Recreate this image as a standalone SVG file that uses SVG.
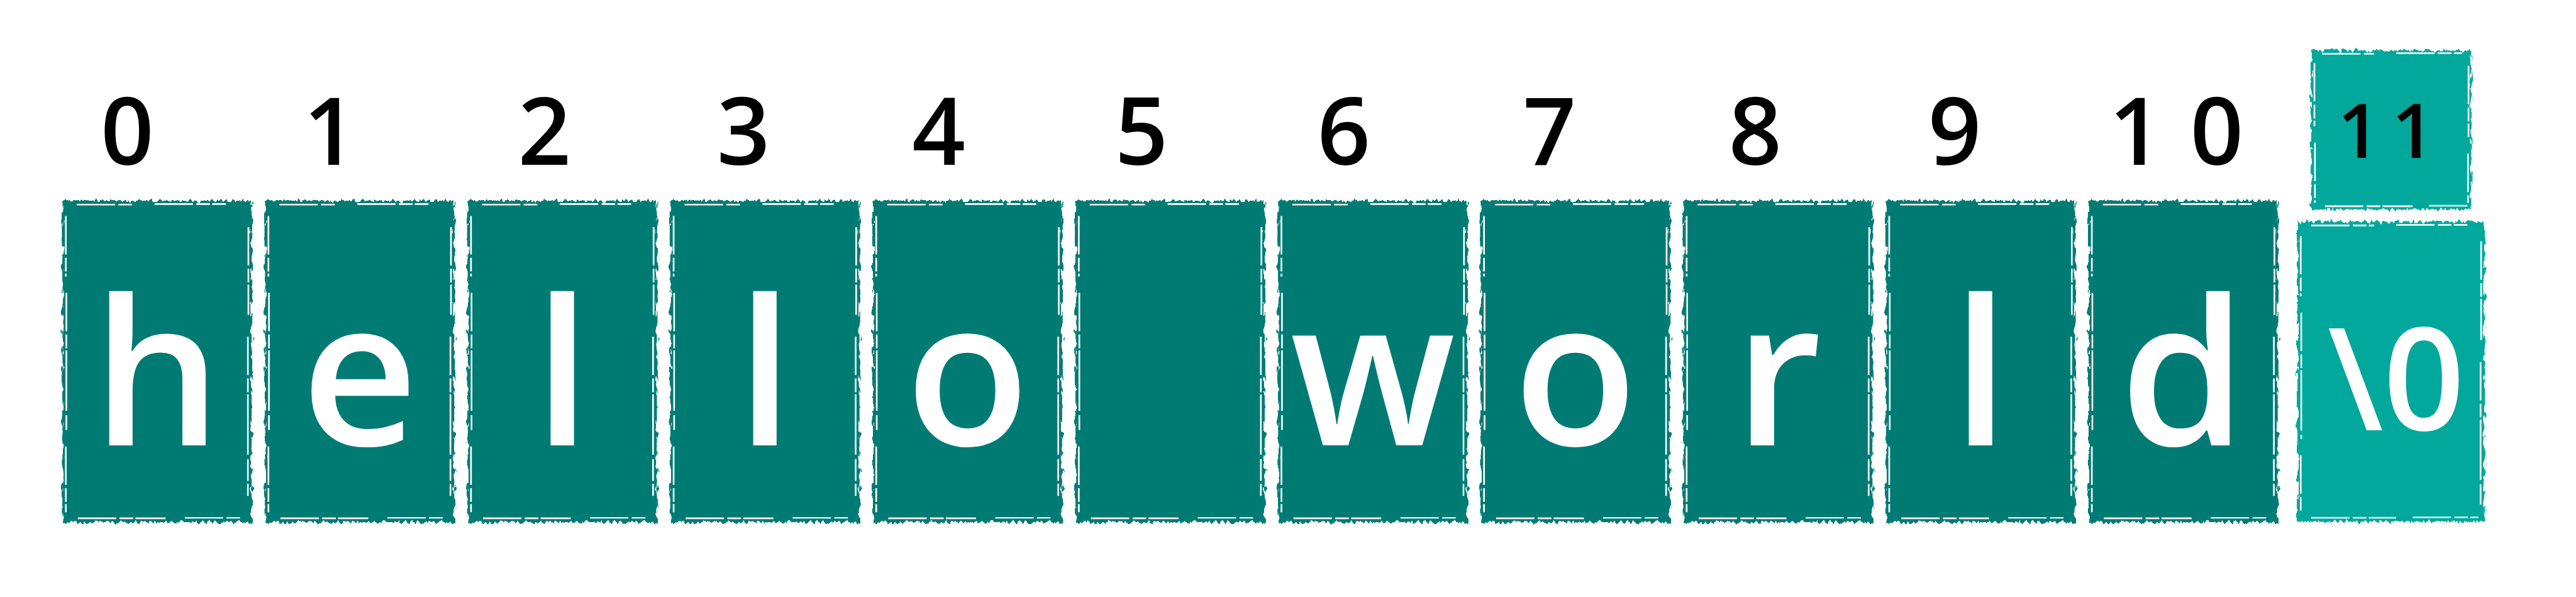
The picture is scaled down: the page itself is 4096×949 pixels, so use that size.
<svg xmlns="http://www.w3.org/2000/svg" xmlns:xlink="http://www.w3.org/1999/xlink" width="4096" height="949" viewBox="0 0 4096 949">
<defs>
<style>
.dk{fill:#007B74}
.lt{fill:#02A89C}
.ch{font-family:"Open Sans","Noto Sans",sans-serif;font-weight:600;font-size:370px;fill:#ffffff;text-anchor:middle}
.ix{font-family:"Open Sans","Noto Sans",sans-serif;font-weight:600;font-size:170px;fill:#000000;text-anchor:middle}
</style>
<filter id="rough" x="-0.06" y="-0.06" width="1.12" height="1.12">
<feTurbulence type="fractalNoise" baseFrequency="0.18 0.06" numOctaves="2" seed="7" result="n"/>
<feDisplacementMap in="SourceGraphic" in2="n" scale="14" xChannelSelector="R" yChannelSelector="G"/>
</filter>
<g id="box">
<rect x="2" y="2" width="345" height="586" filter="url(#rough)"/>
<path d="M8 30 V140 M9 170 V420 M8 450 V570 M30 581 H190 M225 580 H330 M28 9 H130 M170 8 H300 M341 50 V210 M340 250 V540" fill="none" stroke="#ffffff" stroke-width="3" stroke-dasharray="70 6 25 4 110 8 40 5"/>
<rect x="11" y="11" width="327" height="568"/>
</g>
</defs>
<rect width="4096" height="949" fill="#ffffff"/>
<g transform="scale(0.87186)">
<g id="connectors"/>
<g id="n0"><use xlink:href="#box" class="dk" x="112" y="364"/><text class="ix" x="232" y="301">0</text><text class="ch" x="286.5" y="812">h</text></g>
<g id="n1"><use xlink:href="#box" class="dk" x="481.5" y="364"/><text class="ix" x="602" y="301">1</text><text class="ch" x="656" y="812">e</text></g>
<g id="n2"><use xlink:href="#box" class="dk" x="851" y="364"/><text class="ix" x="993" y="301">2</text><text class="ch" x="1025.5" y="812">l</text></g>
<g id="n3"><use xlink:href="#box" class="dk" x="1220.5" y="364"/><text class="ix" x="1356" y="301">3</text><text class="ch" x="1395" y="812">l</text></g>
<g id="n4"><use xlink:href="#box" class="dk" x="1590" y="364"/><text class="ix" x="1712" y="301">4</text><text class="ch" x="1764.5" y="812">o</text></g>
<g id="n5"><use xlink:href="#box" class="dk" x="1959.5" y="364"/><text class="ix" x="2082" y="301">5</text></g>
<g id="n6"><use xlink:href="#box" class="dk" x="2329" y="364"/><text class="ix" x="2451" y="301">6</text><text class="ch" x="2503.5" y="812">w</text></g>
<g id="n7"><use xlink:href="#box" class="dk" x="2698.5" y="364"/><text class="ix" x="2826" y="301">7</text><text class="ch" x="2873" y="812">o</text></g>
<g id="n8"><use xlink:href="#box" class="dk" x="3068" y="364"/><text class="ix" x="3201" y="301">8</text><text class="ch" x="3242.5" y="812">r</text></g>
<g id="n9"><use xlink:href="#box" class="dk" x="3437.5" y="364"/><text class="ix" x="3565" y="301">9</text><text class="ch" x="3612" y="812">l</text></g>
<g id="n10"><use xlink:href="#box" class="dk" x="3807" y="364"/><text class="ix" x="3895 4043" y="301">10</text><text class="ch" x="3981.5" y="812">d</text></g>
<g id="n11">
<g class="lt">
<rect x="4215" y="92" width="292" height="290" filter="url(#rough)"/>
<path d="M4221 115 V230 M4222 260 V370 M4240 376 H4400 M4430 375 H4500 M4235 98 H4330 M4370 97 H4490 M4502 120 V250 M4501 280 V370" fill="none" stroke="#ffffff" stroke-width="3" stroke-dasharray="70 6 25 4 110 8 40 5"/>
<rect x="4224" y="101" width="274" height="272"/>
</g>
<text class="ix" x="4302 4401" y="288" style="font-size:137px">11</text>
<g class="lt">
<rect x="4190" y="404" width="341" height="547" filter="url(#rough)"/>
<path d="M4196 430 V540 M4197 570 V800 M4196 830 V935 M4215 944 H4370 M4400 943 H4520 M4215 411 H4330 M4370 410 H4500 M4525 440 V620 M4524 660 V920" fill="none" stroke="#ffffff" stroke-width="3" stroke-dasharray="70 6 25 4 110 8 40 5"/>
<rect x="4199" y="413" width="323" height="529"/>
</g>
<text class="ch" x="4370" y="785" style="font-size:260px;font-weight:600">\0</text>
</g>
</g>
</svg>
